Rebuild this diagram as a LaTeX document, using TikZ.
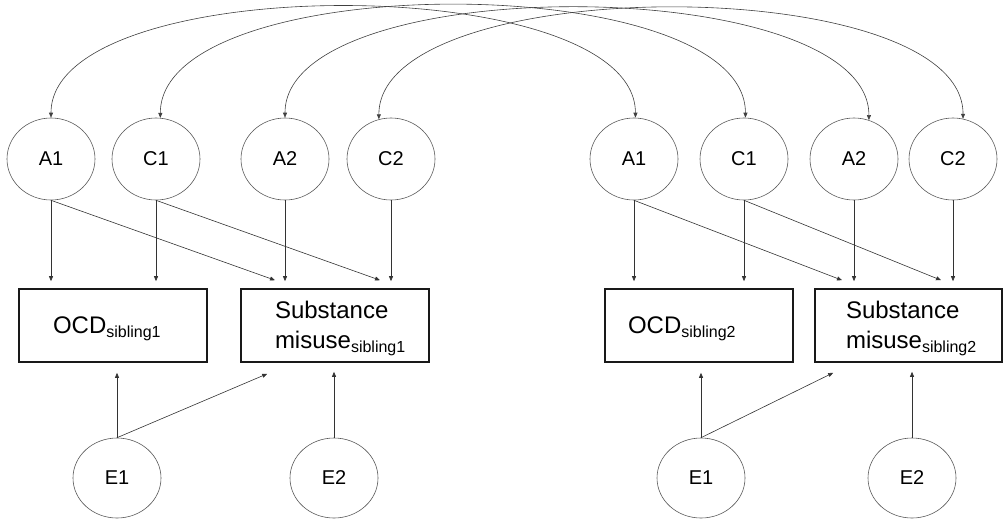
\documentclass[tikz,border=0pt]{standalone}
\usepackage{fontspec}
\setmainfont{Liberation Sans}
\usetikzlibrary{shapes.geometric,arrows.meta,calc}
\newcommand\sibsub[1]{\raisebox{-4pt}{\fontsize{16}{16}\selectfont #1}}
\newcommand\topstrut{\rule{0pt}{23pt}}
\begin{document}
\begin{tikzpicture}[x=1pt,y=-1pt,
  lat/.style={ellipse,draw=black!65,line width=0.6pt,minimum width=88pt,minimum height=82pt,inner sep=0pt,font=\fontsize{20}{24}\selectfont},
  obs/.style={rectangle,draw=black!90,line width=1.6pt,minimum height=73pt,inner ysep=0pt,align=left,font=\fontsize{24}{30}\selectfont},
  arr/.style={draw=black!80,line width=0.6pt,-{Triangle[length=5pt,width=4pt]}},
  cov/.style={draw=black!75,line width=0.6pt,{Triangle[length=5pt,width=4pt]}-{Triangle[length=5pt,width=4pt]}}]
\useasboundingbox (0,0) rectangle (1003,522);

% latent variables, top row
\node[lat] (a1l) at (51,159) {A1};
\node[lat] (c1l) at (156,159) {C1};
\node[lat] (a2l) at (285,159) {A2};
\node[lat] (c2l) at (391,159) {C2};
\node[lat] (a1r) at (634,159) {A1};
\node[lat] (c1r) at (744,159) {C1};
\node[lat] (a2r) at (854,159) {A2};
\node[lat] (c2r) at (953,159) {C2};

% unique environment
\node[lat,minimum height=80pt] (e1l) at (117,478) {E1};
\node[lat,minimum height=80pt] (e2l) at (334,478) {E2};
\node[lat,minimum height=80pt] (e1r) at (701,478) {E1};
\node[lat,minimum height=80pt] (e2r) at (912,478) {E2};

% observed variables
\node[obs,text width=120pt,inner xsep=34pt] (ocd1) at (113,325.5) {\topstrut OCD\sibsub{sibling1}};
\node[obs,text width=120pt,inner xsep=34pt] (sub1) at (335,325.5) {\topstrut Substance\\misuse\sibsub{sibling1}};
\node[obs,text width=142pt,inner xsep=23pt] (ocd2) at (699,325.5) {\topstrut OCD\sibsub{sibling2}};
\node[obs,text width=125pt,inner xsep=31pt] (sub2) at (908.5,325.5) {\topstrut Substance\\misuse\sibsub{sibling2}};

% covariances between siblings
\draw[cov] (a1l.north) .. controls +(0,-148) and +(0,-148) .. (a1r.88);
\draw[cov] (c1l.84) .. controls +(0,-150) and +(0,-150) .. (c1r.88);
\draw[cov] (a2l.north) .. controls +(0,-148) and +(0,-148) .. (a2r.69);
\draw[cov] (c2l.107) .. controls +(0,-148) and +(0,-148) .. (c2r.76);

% sibling 1 paths
\draw[arr] (a1l.south) -- ($(ocd1.north -| a1l)+(0,-7)$);
\draw[arr] (c1l.south) -- ($(ocd1.north -| c1l)+(0,-7)$);
\draw[arr] (a2l.south) -- ($(sub1.north -| a2l)+(0,-7)$);
\draw[arr] (c2l.south) -- ($(sub1.north -| c2l)+(0,-7)$);
\draw[arr] (a1l.south) -- ($(sub1.north -| a2l)+(-10,-8)$);
\draw[arr] (c1l.south) -- ($(sub1.north -| c2l)+(-11,-8)$);
\draw[arr] (e1l.north) -- ($(ocd1.south -| e1l)+(0,10)$);
\draw[arr] (e1l.north) -- ($(sub1.south west)+(27,11)$);
\draw[arr] (e2l.north) -- ($(sub1.south -| e2l)+(0,9)$);

% sibling 2 paths
\draw[arr] (a1r.south) -- ($(ocd2.north -| a1r)+(0,-7)$);
\draw[arr] (c1r.south) -- ($(ocd2.north -| c1r)+(0,-7)$);
\draw[arr] (a2r.south) -- ($(sub2.north -| a2r)+(0,-7)$);
\draw[arr] (c2r.south) -- ($(sub2.north -| c2r)+(0,-7)$);
\draw[arr] (a1r.south) -- ($(sub2.north -| a2r)+(-12,-8)$);
\draw[arr] (c1r.south) -- ($(sub2.north -| c2r)+(-12,-8)$);
\draw[arr] (e1r.north) -- ($(ocd2.south -| e1r)+(0,10)$);
\draw[arr] (e1r.north) -- ($(sub2.south west)+(19,10)$);
\draw[arr] (e2r.north) -- ($(sub2.south -| e2r)+(0,9)$);
\end{tikzpicture}
\end{document}
